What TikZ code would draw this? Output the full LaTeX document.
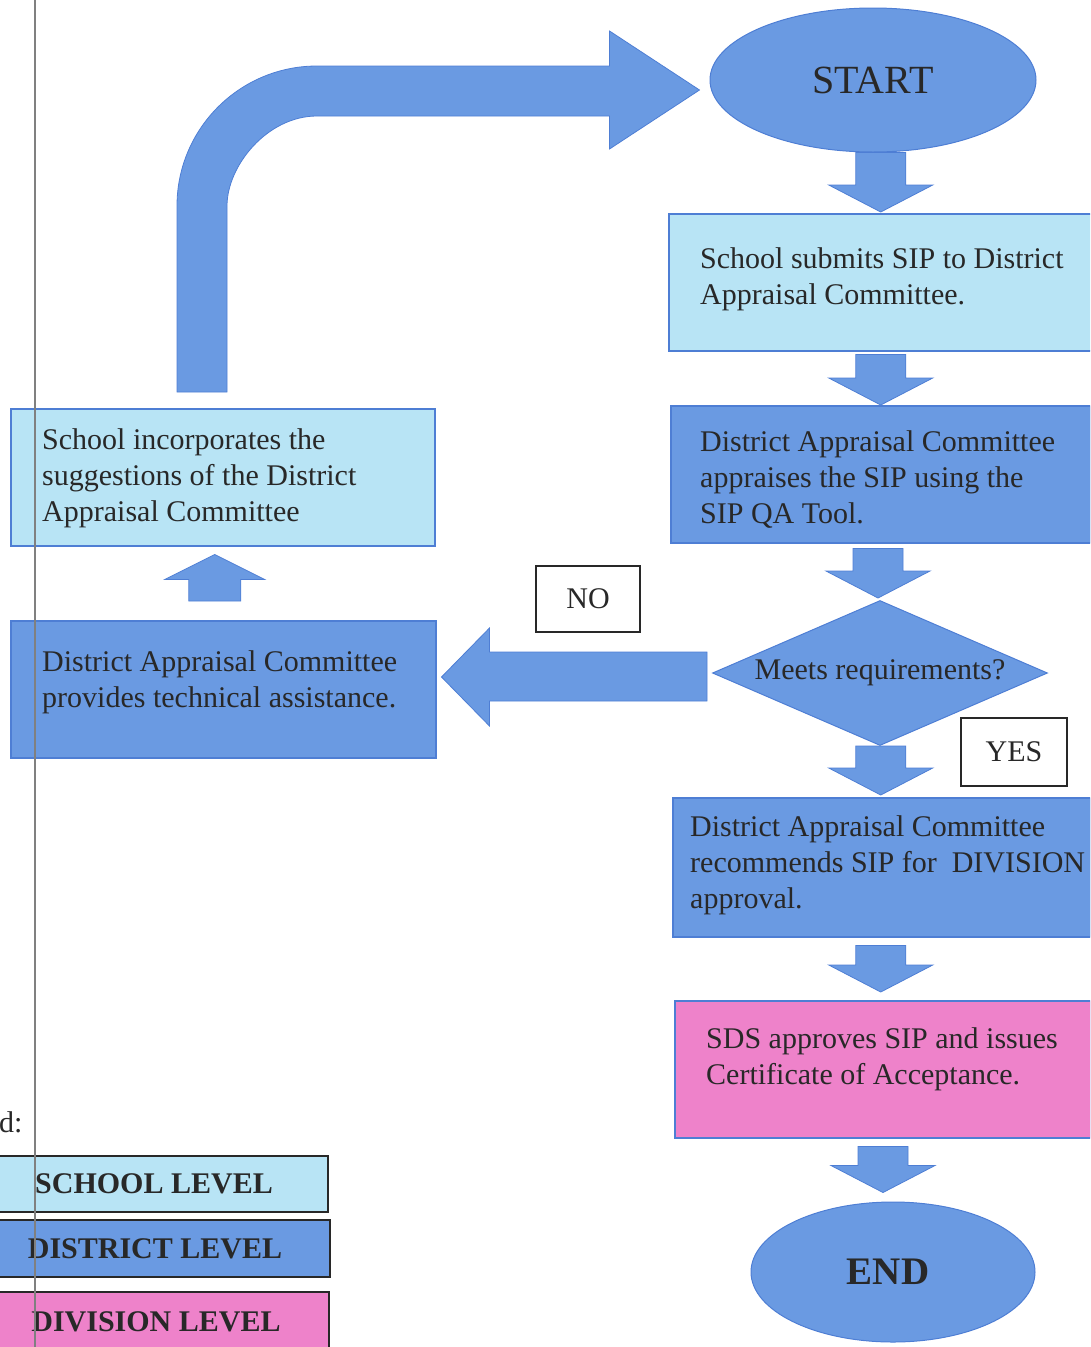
\documentclass[tikz,border=0pt]{standalone}
\usepackage{fontspec}
\setmainfont{Liberation Serif}
\usetikzlibrary{shapes.geometric,calc}
\definecolor{schoolc}{RGB}{184,228,245}
\definecolor{distc}{RGB}{106,154,226}
\definecolor{divc}{RGB}{238,130,202}
\definecolor{edgec}{RGB}{78,126,212}
\definecolor{inkc}{RGB}{40,40,40}
\tikzset{
  stdfont/.style={font=\fontsize{30}{36}\selectfont},
  boxbase/.style={rectangle, draw=edgec, line width=1.5pt, inner sep=0pt, anchor=north west},
  schoolbox/.style={boxbase, fill=schoolc},
  distbox/.style={boxbase, fill=distc},
  divbox/.style={boxbase, fill=divc},
  boxtext/.style={stdfont, text=inkc, anchor=west, align=left, inner sep=0pt},
  blockarrow/.style={fill=distc, draw=edgec, line width=0.8pt},
  answer/.style={rectangle, draw=inkc, line width=1.5pt, fill=white, stdfont, text=inkc},
  legbox/.style={rectangle, draw=inkc, line width=1.8pt, font=\fontsize{30}{36}\selectfont\bfseries, text=inkc},
  oval/.style={ellipse, fill=distc, draw=edgec, line width=1pt, inner sep=0pt, text=inkc}
}
\newcommand{\dblock}[5]{%
  \fill[blockarrow] let \p1=(#1.south), \p2=(#2.north) in
    ({\x2+(#5pt)-25pt},{\y1-#3pt}) -- ({\x2+(#5pt)+25pt},{\y1-#3pt})
    -- ({\x2+(#5pt)+25pt},{\y2+#4pt+27pt}) -- ({\x2+(#5pt)+52pt},{\y2+#4pt+27pt})
    -- ({\x2+(#5pt)},{\y2+#4pt}) -- ({\x2+(#5pt)-52pt},{\y2+#4pt+27pt})
    -- ({\x2+(#5pt)-25pt},{\y2+#4pt+27pt}) -- cycle;}
\begin{document}
\begin{tikzpicture}[x=1pt,y=-1pt]
\path[use as bounding box] (0,0) rectangle (1090,1347);
\clip (0,0) rectangle (1090,1347);

% right column
\node[oval, minimum width=326pt, minimum height=144pt, font=\fontsize{40}{40}\selectfont] (start) at (873,80) {START};
\node[schoolbox, minimum width=424pt, minimum height=137pt] (b1) at (668,213) {};
\node[boxtext] (t1) at ([xshift=32pt,yshift=3pt]b1.west) {School submits SIP to District\\Appraisal Committee.};
\node[distbox, minimum width=420pt, minimum height=137pt] (b2) at (670,405) {};
\node[boxtext] (t2) at ([xshift=30pt,yshift=-5pt]b2.west) {District Appraisal Committee\\appraises the SIP using the\\SIP QA Tool.};
\node[diamond, fill=distc, draw=edgec, line width=1pt, aspect=2.3, inner sep=0pt,
      minimum width=335pt, minimum height=145pt, stdfont, text=inkc] (dec) at (880,673) {Meets requirements?};
\node[distbox, minimum width=418pt, minimum height=139pt] (b3) at (672,797) {};
\node[boxtext] (t3) at ([xshift=18pt,yshift=2pt]b3.west) {District Appraisal Committee\\recommends SIP for\ \ DIVISION\\approval.};
\node[divbox, minimum width=416pt, minimum height=137pt] (b4) at (674,1000) {};
\node[boxtext] (t4) at ([xshift=32pt,yshift=10pt]b4.west) {SDS approves SIP and issues\\Certificate of Acceptance.};
\node[oval, minimum width=284pt, minimum height=140pt, font=\fontsize{39}{39}\selectfont\bfseries] (endn) at (893,1272) {\hspace*{-10pt}END};

% left column
\node[schoolbox, minimum width=424pt, minimum height=137pt] (lb1) at (10,408) {};
\node[boxtext] (lt1) at ([xshift=32pt,yshift=-1pt]lb1.west) {School incorporates the\\suggestions of the District\\Appraisal Committee};
\node[distbox, minimum width=425pt, minimum height=137pt] (lb2) at (10,620) {};
\node[boxtext] (lt2) at ([xshift=32pt,yshift=7pt]lb2.west) {District Appraisal Committee\\provides technical assistance.};

% answers
\node[answer, minimum width=104pt, minimum height=66pt] (no) at (588,599) {NO};
\node[answer, minimum width=106pt, minimum height=68pt] (yes) at (1014,752) {YES};

% vertical block arrows
\dblock{start}{b1}{0}{1}{0}
\dblock{b1}{b2}{3}{0}{0}
\dblock{b2}{dec}{5}{2}{-2}
\dblock{dec}{b3}{0}{2}{-1}
\dblock{b3}{b4}{8}{8}{-2}
\dblock{b4}{endn}{8}{9}{-10}

% up arrow (left column)
\fill[blockarrow] let \p1=(lb2.north), \p2=(lb1.south) in
  ({\x2-8pt-26pt},{\y1+19pt}) -- ({\x2-8pt-26pt},{\y2-8pt-25pt})
  -- ({\x2-8pt-50pt},{\y2-8pt-25pt}) -- ({\x2-8pt},{\y2-8pt})
  -- ({\x2-8pt+50pt},{\y2-8pt-25pt}) -- ({\x2-8pt+26pt},{\y2-8pt-25pt})
  -- ({\x2-8pt+26pt},{\y1+19pt}) -- cycle;

% NO arrow (leftwards)
\fill[blockarrow] let \p1=(dec.west), \p2=(lb2.east) in
  ({\x1-5pt},652) -- ({\x2+53pt},652) -- ({\x2+53pt},628)
  -- ({\x2+5pt},677) -- ({\x2+53pt},726) -- ({\x2+53pt},701)
  -- ({\x1-5pt},701) -- cycle;

% bent arrow back to START
\fill[blockarrow] let \p1=(lb1.north), \p2=(start.west) in
  (177,{\y1+16pt}) -- (177,206) .. controls (177,128.7) and (239.7,66) .. (317,66)
  -- ({\x2-100pt},66) -- ({\x2-100pt},31) -- ({\x2-10pt},90) -- ({\x2-100pt},149)
  -- ({\x2-100pt},116) -- (317,116) .. controls (267.3,116) and (227,165.7) .. (227,206)
  -- (227,{\y1+16pt}) -- cycle;

% legend
\node[stdfont, text=inkc, anchor=west, inner sep=0pt] (legt) at (-1,1122) {d:};
\node[legbox, fill=schoolc, minimum width=348pt, minimum height=56pt] (ls) at (154,1184) {SCHOOL LEVEL};
\node[legbox, fill=distc, minimum width=350pt, minimum height=57pt] (ld) at (155,1248.5) {DISTRICT LEVEL};
\node[legbox, fill=divc, minimum width=346pt, minimum height=60pt] (lv) at (156,1322) {DIVISION LEVEL};

% page margin line
\draw[gray, line width=1.2pt] (35,0) -- (35,1347);
\end{tikzpicture}
\end{document}
